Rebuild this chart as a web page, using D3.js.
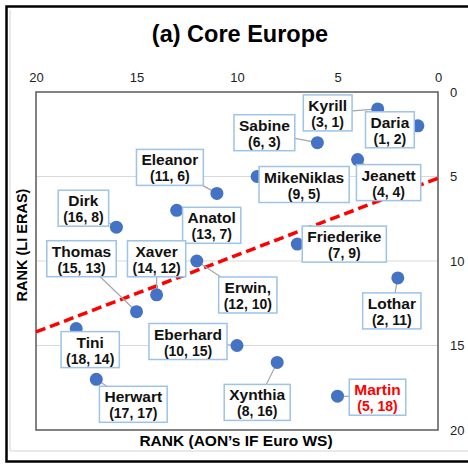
<!DOCTYPE html>
<html>
<head>
<meta charset="utf-8">
<script src="https://cdn.jsdelivr.net/npm/d3@7"></script>
<style>
  body { margin: 0; background: #fff; }
  svg { font-family: "Liberation Sans", Arial, sans-serif; }
</style>
</head>
<body>
<svg id="chart" width="468" height="464"></svg>
<script>
// storms, rank by AON (x) and by LI ERAS (y)
var storms = ["Kyrill", "Daria", "Sabine", "Jeanett", "MikeNiklas", "Eleanor", "Anatol", "Dirk", "Friederike",
  "Erwin,", "Lothar", "Xaver", "Thomas", "Tini", "Eberhard", "Xynthia", "Herwart", "Martin"]
var rankAon = [3, 1, 6, 4, 9, 11, 13, 16, 7, 12, 2, 14, 15, 18, 10, 8, 17, 5]
var rankEras = [1, 2, 3, 4, 5, 6, 7, 8, 9, 10, 11, 12, 13, 14, 15, 16, 17, 18]
var xTicks = [20, 15, 10, 5, 0]
var yTicks = [0, 5, 10, 15, 20]
// dashed trend line, ends at x=20 and x=0
var trendX = [20, 0]
var trendY = [14.2, 5.1]

// label box offset from the dot (px) - layout only
var labelOffset = {
  "Kyrill": [-50, 4], "Daria": [-28, 4], "Sabine": [-53, -10], "Jeanett": [31, 23],
  "MikeNiklas": [47, 8], "Eleanor": [-47, -26], "Anatol": [35, 15], "Dirk": [-33, -19],
  "Friederike": [47, 0], "Erwin,": [51, 34], "Lothar": [-6, 33], "Xaver": [0, -36],
  "Thomas": [-55, -53], "Tini": [14, 21], "Eberhard": [-49, -4], "Xynthia": [-20, 40],
  "Herwart": [37, 25], "Martin": [40, 1]
}

var svg = d3.select("#chart")
var pLeft = 36, pRight = 438, pTop = 92, pBottom = 430

var x = d3.scaleLinear().domain([20, 0]).range([pLeft, pRight])
var y = d3.scaleLinear().domain([0, 20]).range([pTop, pBottom])

// outer frames
svg.append("line").attr("x1", 10).attr("x2", 468).attr("y1", 451).attr("y2", 451)
  .attr("stroke", "#e2e2e2").attr("stroke-width", 1.5)
svg.append("line").attr("x1", 10).attr("x2", 10).attr("y1", 10).attr("y2", 451)
  .attr("stroke", "#e2e2e2").attr("stroke-width", 1.5)
svg.append("rect").attr("x", 6.5).attr("y", 6.5).attr("width", 470).attr("height", 455)
  .attr("fill", "none").attr("stroke", "#000").attr("stroke-width", 2.5)

svg.append("text").attr("x", 240).attr("y", 42).attr("text-anchor", "middle")
  .attr("font-size", 23.5).attr("font-weight", "bold").text("(a) Core Europe")

// gridlines
svg.append("g").selectAll("line").data([5, 10, 15]).enter().append("line")
  .attr("x1", pLeft).attr("x2", pRight)
  .attr("y1", function (d) { return y(d) }).attr("y2", function (d) { return y(d) })
  .attr("stroke", "#d9d9d9").attr("stroke-width", 1)

// axes
var xAxis = svg.append("g").attr("transform", "translate(0," + (pTop - 6) + ")")
  .call(d3.axisTop(x).tickValues(xTicks).tickSize(0).tickPadding(4))
xAxis.select(".domain").remove()
xAxis.selectAll("text").attr("font-size", 13).attr("fill", "#222").attr("font-family", "Liberation Sans, Arial")

var yAxis = svg.append("g").attr("transform", "translate(" + (pRight + 8) + ",0)")
  .call(d3.axisRight(y).tickValues(yTicks).tickSize(0).tickPadding(4))
yAxis.select(".domain").remove()
yAxis.selectAll("text").attr("font-size", 13).attr("fill", "#222").attr("font-family", "Liberation Sans, Arial")

svg.append("rect").attr("x", pLeft).attr("y", pTop).attr("width", pRight - pLeft).attr("height", pBottom - pTop)
  .attr("fill", "none").attr("stroke", "#595959").attr("stroke-width", 1.5)

svg.append("text").attr("x", 236).attr("y", 446).attr("text-anchor", "middle")
  .attr("font-size", 15.5).attr("font-weight", "bold").text("RANK (AON\u2019s IF Euro WS)")
svg.append("text").attr("transform", "translate(27,245) rotate(-90)").attr("text-anchor", "middle")
  .attr("font-size", 14.5).attr("font-weight", "bold").text("RANK (LI ERAS)")

// trend line
svg.append("line")
  .attr("x1", x(trendX[0])).attr("y1", y(trendY[0]))
  .attr("x2", x(trendX[1])).attr("y2", y(trendY[1]))
  .attr("stroke", "#ff0000").attr("stroke-width", 3.5).attr("stroke-dasharray", "10,5")

var pts = storms.map(function (s, i) {
  return { name: s, ax: rankAon[i], ey: rankEras[i], off: labelOffset[s] }
})

// leader lines
svg.append("g").selectAll("line").data(pts).enter().append("line")
  .attr("x1", function (d) { return x(d.ax) }).attr("y1", function (d) { return y(d.ey) })
  .attr("x2", function (d) { return x(d.ax) + d.off[0] }).attr("y2", function (d) { return y(d.ey) + d.off[1] })
  .attr("stroke", "#a6a6a6").attr("stroke-width", 1.2)

// dots
svg.append("g").selectAll("circle").data(pts).enter().append("circle")
  .attr("cx", function (d) { return x(d.ax) }).attr("cy", function (d) { return y(d.ey) })
  .attr("r", 6.5).attr("fill", "#4472c4")

// label boxes
var labels = svg.append("g").selectAll("g").data(pts).enter().append("g")
  .attr("transform", function (d) {
    return "translate(" + (x(d.ax) + d.off[0]) + "," + (y(d.ey) + d.off[1]) + ")"
  })

labels.each(function (d) {
  var g = d3.select(this)
  var col = d.name == "Martin" ? "#ff0000" : "#111"
  var box = g.append("rect").attr("fill", "#fff").attr("stroke", "#9dc3e6").attr("stroke-width", 1.5)
  var t1 = g.append("text").attr("text-anchor", "middle").attr("y", -2)
    .attr("font-size", 15.5).attr("font-weight", "bold").attr("fill", col).text(d.name)
  var t2 = g.append("text").attr("text-anchor", "middle").attr("y", 14)
    .attr("font-size", 14).attr("font-weight", "bold").attr("fill", col)
    .text("(" + d.ax + ", " + d.ey + ")")
  var w = Math.max(t1.node().getComputedTextLength(), t2.node().getComputedTextLength()) + 10
  box.attr("x", -w / 2).attr("y", -18).attr("width", w).attr("height", 36)
})
</script>
</body>
</html>
